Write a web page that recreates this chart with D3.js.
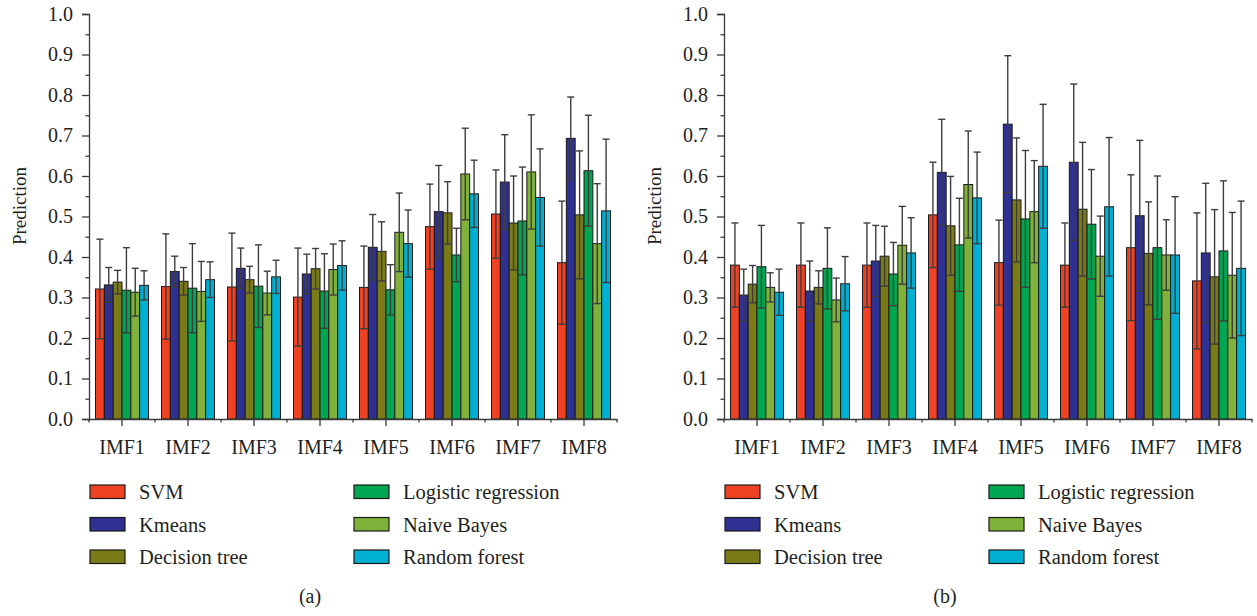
<!DOCTYPE html>
<html>
<head>
<meta charset="utf-8">
<script src="https://cdn.jsdelivr.net/npm/d3@7"></script>
<style>
  body { margin: 0; background: #fff; }
  svg text { font-family: "Liberation Serif", "Times New Roman", serif; fill: #231f20; }
</style>
</head>
<body>
<div id="chart"></div>
<script>
const categories = ["IMF1", "IMF2", "IMF3", "IMF4", "IMF5", "IMF6", "IMF7", "IMF8"];
const seriesNames = ["SVM", "Kmeans", "Decision tree", "Logistic regression", "Naive Bayes", "Random forest"];
const seriesColors = ["#ef4123", "#2e3192", "#7a7a16", "#00a651", "#80b13a", "#00b0d2"];
const yTicks = [0, 0.1, 0.2, 0.3, 0.4, 0.5, 0.6, 0.7, 0.8, 0.9, 1.0];

// panel (a): one row per series, one column per IMF
const meansA = [
  [0.321, 0.327, 0.326, 0.301, 0.325, 0.475, 0.506, 0.386],
  [0.331, 0.364, 0.372, 0.358, 0.424, 0.512, 0.585, 0.693],
  [0.338, 0.340, 0.344, 0.371, 0.414, 0.509, 0.484, 0.504],
  [0.318, 0.323, 0.328, 0.316, 0.319, 0.405, 0.489, 0.613],
  [0.313, 0.315, 0.311, 0.369, 0.461, 0.605, 0.610, 0.433],
  [0.330, 0.344, 0.351, 0.379, 0.433, 0.556, 0.547, 0.514]
];
const errorsA = [
  [0.123, 0.130, 0.133, 0.121, 0.102, 0.105, 0.109, 0.152],
  [0.043, 0.038, 0.050, 0.049, 0.081, 0.114, 0.117, 0.102],
  [0.029, 0.034, 0.033, 0.050, 0.073, 0.077, 0.116, 0.158],
  [0.105, 0.110, 0.102, 0.092, 0.062, 0.066, 0.133, 0.137],
  [0.059, 0.074, 0.054, 0.063, 0.097, 0.113, 0.141, 0.148],
  [0.036, 0.044, 0.041, 0.061, 0.083, 0.083, 0.120, 0.177]
];

// panel (b)
const meansB = [
  [0.380, 0.380, 0.380, 0.504, 0.386, 0.380, 0.423, 0.341],
  [0.306, 0.316, 0.390, 0.609, 0.728, 0.634, 0.502, 0.410],
  [0.333, 0.325, 0.402, 0.477, 0.541, 0.518, 0.409, 0.351],
  [0.376, 0.372, 0.358, 0.430, 0.494, 0.481, 0.423, 0.415],
  [0.325, 0.294, 0.429, 0.579, 0.512, 0.402, 0.405, 0.355],
  [0.313, 0.334, 0.410, 0.546, 0.624, 0.524, 0.405, 0.372]
];
const errorsB = [
  [0.104, 0.104, 0.104, 0.130, 0.105, 0.104, 0.180, 0.168],
  [0.064, 0.074, 0.088, 0.131, 0.169, 0.193, 0.186, 0.172],
  [0.046, 0.041, 0.074, 0.122, 0.153, 0.165, 0.127, 0.166],
  [0.102, 0.100, 0.078, 0.115, 0.169, 0.135, 0.177, 0.173],
  [0.036, 0.054, 0.096, 0.132, 0.126, 0.099, 0.087, 0.155],
  [0.057, 0.067, 0.087, 0.113, 0.153, 0.171, 0.144, 0.166]
];

const W = 1257, H = 616;
const svg = d3.select("#chart").append("svg").attr("width", W).attr("height", H);

const axisColor = "#3a3a3a";
const plotW = 528, yTop = 14, yBottom = 419;

function drawPanel(x0, means, errors, caption) {
  const g = svg.append("g");

  const x = d3.scaleBand().domain(categories).range([x0, x0 + plotW])
    .paddingInner(0.197).paddingOuter(0.0985);
  const xs = d3.scaleBand().domain(seriesNames).range([0, x.bandwidth()]);
  const y = d3.scaleLinear().domain([0, 1]).range([yBottom, yTop]);

  const rows = [];
  seriesNames.forEach((s, si) => {
    categories.forEach((c, ci) => {
      rows.push({ s, si, c, v: means[si][ci], e: errors[si][ci] });
    });
  });

  // bars
  g.append("g").selectAll("rect").data(rows).join("rect")
    .attr("x", d => x(d.c) + xs(d.s))
    .attr("y", d => y(d.v))
    .attr("width", xs.bandwidth())
    .attr("height", d => y(0) - y(d.v))
    .attr("fill", d => seriesColors[d.si])
    .attr("stroke", "#1a1a1a")
    .attr("stroke-width", 1);

  // error bars
  const capW = 7;
  const cx = d => x(d.c) + xs(d.s) + xs.bandwidth() / 2;
  const eb = g.append("g").attr("stroke", "#3d3d3d").attr("stroke-width", 1.4);
  eb.selectAll("line.v").data(rows).join("line").attr("class", "v")
    .attr("x1", cx).attr("x2", cx)
    .attr("y1", d => y(d.v + d.e))
    .attr("y2", d => y(d.v - d.e));
  eb.selectAll("line.top").data(rows).join("line").attr("class", "top")
    .attr("x1", d => cx(d) - capW / 2).attr("x2", d => cx(d) + capW / 2)
    .attr("y1", d => y(d.v + d.e)).attr("y2", d => y(d.v + d.e));
  eb.selectAll("line.bot").data(rows).join("line").attr("class", "bot")
    .attr("x1", d => cx(d) - capW / 2).attr("x2", d => cx(d) + capW / 2)
    .attr("y1", d => y(d.v - d.e)).attr("y2", d => y(d.v - d.e));

  // y axis
  const yAxis = g.append("g").attr("transform", `translate(${x0},0)`)
    .call(d3.axisLeft(y).tickValues(yTicks).tickFormat(d3.format(".1f")).tickSize(7).tickPadding(9));
  g.append("g").attr("transform", `translate(${x0},0)`)
    .call(d3.axisLeft(y).tickValues(d3.range(0.05, 1, 0.1)).tickFormat("").tickSize(3.5))
    .select(".domain").remove();
  yAxis.selectAll("text").attr("font-size", 20).attr("font-family", "Liberation Serif");

  // x axis
  const xAxis = g.append("g").attr("transform", `translate(0,${yBottom})`)
    .call(d3.axisBottom(x).tickSize(7).tickPadding(14).tickSizeOuter(0));
  xAxis.selectAll("text").attr("font-size", 20).attr("font-family", "Liberation Serif");
  g.append("g").attr("transform", `translate(0,${yBottom})`)
    .selectAll("line").data(d3.range(categories.length + 1)).join("line")
    .attr("x1", i => x0 + i * x.step()).attr("x2", i => x0 + i * x.step())
    .attr("y1", 0).attr("y2", 3.5)
    .attr("stroke", axisColor).attr("stroke-width", 1.3);

  g.selectAll(".domain").attr("stroke", axisColor).attr("stroke-width", 1.3);
  g.selectAll(".tick line").attr("stroke", axisColor).attr("stroke-width", 1.3);

  // y label
  g.append("text")
    .attr("transform", `translate(${x0 - 63},206) rotate(-90)`)
    .attr("text-anchor", "middle")
    .attr("font-size", 19)
    .text("Prediction");

  // legend
  const legend = g.append("g");
  seriesNames.forEach((s, i) => {
    const col = Math.floor(i / 3), row = i % 3;
    const lx = x0 + 1 + col * 264, ly = 485 + row * 32.5;
    legend.append("rect")
      .attr("x", lx).attr("y", ly).attr("width", 35).attr("height", 13.5)
      .attr("fill", seriesColors[i]).attr("stroke", "#1a1a1a").attr("stroke-width", 1.2);
    legend.append("text")
      .attr("x", lx + 49).attr("y", ly + 14)
      .attr("font-size", 20.5)
      .text(s);
  });

  // caption
  g.append("text")
    .attr("x", x0 + 221).attr("y", 603)
    .attr("text-anchor", "middle")
    .attr("font-size", 20)
    .text(caption);
}

drawPanel(89, meansA, errorsA, "(a)");
drawPanel(724, meansB, errorsB, "(b)");
</script>
</body>
</html>
